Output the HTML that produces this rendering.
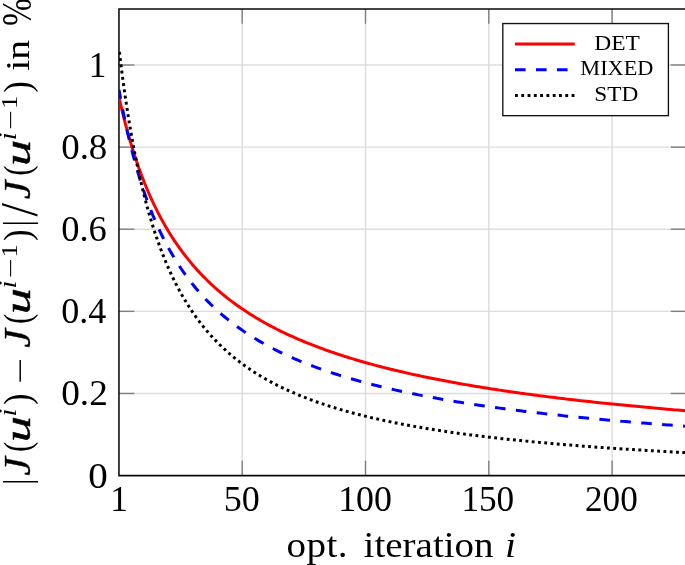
<!DOCTYPE html>
<html><head><meta charset="utf-8"><title>plot</title>
<style>
html,body{margin:0;padding:0;background:#fff;}
body{width:685px;height:565px;overflow:hidden;}
svg{display:block;}
text{font-family:"Liberation Serif",serif;fill:#000;}
</style></head><body>
<svg width="685" height="565" viewBox="0 0 685 565">
<rect width="685" height="565" fill="#fff"/>

<g stroke="#dcdcdc" stroke-width="1.4" fill="none">
<line x1="242.20" y1="9.0" x2="242.20" y2="475.6"/>
<line x1="365.50" y1="9.0" x2="365.50" y2="475.6"/>
<line x1="488.80" y1="9.0" x2="488.80" y2="475.6"/>
<line x1="612.10" y1="9.0" x2="612.10" y2="475.6"/>
<line x1="118.95" y1="393.48" x2="690" y2="393.48"/>
<line x1="118.95" y1="311.36" x2="690" y2="311.36"/>
<line x1="118.95" y1="229.24" x2="690" y2="229.24"/>
<line x1="118.95" y1="147.12" x2="690" y2="147.12"/>
<line x1="118.95" y1="65.00" x2="690" y2="65.00"/>
</g>
<g stroke="#808080" stroke-width="1.4" fill="none">
<line x1="242.20" y1="9.0" x2="242.20" y2="23.8"/>
<line x1="242.20" y1="475.6" x2="242.20" y2="460.8"/>
<line x1="365.50" y1="9.0" x2="365.50" y2="23.8"/>
<line x1="365.50" y1="475.6" x2="365.50" y2="460.8"/>
<line x1="488.80" y1="9.0" x2="488.80" y2="23.8"/>
<line x1="488.80" y1="475.6" x2="488.80" y2="460.8"/>
<line x1="612.10" y1="9.0" x2="612.10" y2="23.8"/>
<line x1="612.10" y1="475.6" x2="612.10" y2="460.8"/>
<line x1="118.95" y1="393.48" x2="134.35" y2="393.48"/>
<line x1="670.8" y1="393.48" x2="690" y2="393.48"/>
<line x1="118.95" y1="311.36" x2="134.35" y2="311.36"/>
<line x1="670.8" y1="311.36" x2="690" y2="311.36"/>
<line x1="118.95" y1="229.24" x2="134.35" y2="229.24"/>
<line x1="670.8" y1="229.24" x2="690" y2="229.24"/>
<line x1="118.95" y1="147.12" x2="134.35" y2="147.12"/>
<line x1="670.8" y1="147.12" x2="690" y2="147.12"/>
<line x1="118.95" y1="65.00" x2="134.35" y2="65.00"/>
<line x1="670.8" y1="65.00" x2="690" y2="65.00"/>
</g>
<path d="M690,9.0 L118.95,9.0 L118.95,475.6 L690,475.6" fill="none" stroke="#0a0a0a" stroke-width="1.55"/>
<clipPath id="c"><rect x="118.95" y="9.0" width="685" height="466.6"/></clipPath>
<g clip-path="url(#c)" fill="none" stroke-width="3.0">
<path d="M119.02,97.25 L119.65,100.05 L120.27,102.80 L120.89,105.51 L121.51,108.18 L122.14,110.79 L122.76,113.37 L123.38,115.90 L124.01,118.40 L124.63,120.85 L125.25,123.26 L125.87,125.64 L126.50,127.98 L127.12,130.28 L127.74,132.55 L128.36,134.78 L128.99,136.98 L129.61,139.15 L130.23,141.28 L130.86,143.38 L131.48,145.46 L132.10,147.50 L132.72,149.51 L133.35,151.50 L133.97,153.45 L134.59,155.38 L135.21,157.29 L135.84,159.16 L136.46,161.02 L137.08,162.84 L137.71,164.64 L138.33,166.42 L138.95,168.18 L139.57,169.91 L140.20,171.62 L140.82,173.30 L141.44,174.97 L142.06,176.61 L142.69,178.24 L143.31,179.84 L143.93,181.42 L144.56,182.99 L145.18,184.53 L145.80,186.06 L146.42,187.57 L147.05,189.05 L147.67,190.53 L148.29,191.98 L148.91,193.42 L149.54,194.84 L150.16,196.24 L150.78,197.63 L151.41,199.00 L152.03,200.35 L152.65,201.69 L153.27,203.02 L153.90,204.33 L154.52,205.63 L155.14,206.91 L155.77,208.18 L156.39,209.43 L157.01,210.67 L157.63,211.90 L158.26,213.11 L158.88,214.31 L159.50,215.50 L160.12,216.68 L160.75,217.84 L161.37,218.99 L161.99,220.13 L162.62,221.26 L163.24,222.38 L163.86,223.48 L164.48,224.58 L165.11,225.66 L165.73,226.73 L166.35,227.79 L166.97,228.85 L167.60,229.89 L168.22,230.92 L169.45,232.93 L172.07,237.08 L174.69,241.08 L177.32,244.92 L179.94,248.62 L182.56,252.18 L185.18,255.62 L187.80,258.94 L190.42,262.14 L193.04,265.24 L195.66,268.23 L198.28,271.13 L200.90,273.94 L203.52,276.66 L206.15,279.30 L208.77,281.85 L211.39,284.34 L214.01,286.75 L216.63,289.09 L219.25,291.36 L221.87,293.58 L224.49,295.73 L227.11,297.83 L229.73,299.87 L232.35,301.85 L234.98,303.79 L237.60,305.68 L240.22,307.52 L242.84,309.31 L245.46,311.07 L248.08,312.78 L250.70,314.45 L253.32,316.08 L255.94,317.68 L258.56,319.23 L261.18,320.76 L263.81,322.25 L266.43,323.71 L269.05,325.13 L271.67,326.53 L274.29,327.90 L276.91,329.24 L279.53,330.55 L282.15,331.83 L284.77,333.09 L287.39,334.33 L290.01,335.54 L292.64,336.72 L295.26,337.89 L297.88,339.03 L300.50,340.15 L303.12,341.25 L305.74,342.33 L308.36,343.39 L310.98,344.44 L313.60,345.46 L316.22,346.46 L318.84,347.45 L321.47,348.42 L324.09,349.38 L326.71,350.32 L329.33,351.24 L331.95,352.15 L334.57,353.04 L337.19,353.92 L339.81,354.78 L342.43,355.63 L345.05,356.47 L347.67,357.29 L350.30,358.10 L352.92,358.90 L355.54,359.69 L358.16,360.46 L360.78,361.23 L363.40,361.98 L366.02,362.72 L368.64,363.45 L371.26,364.17 L373.88,364.88 L376.50,365.58 L379.12,366.27 L381.75,366.94 L384.37,367.61 L386.99,368.28 L389.61,368.93 L392.23,369.57 L394.85,370.20 L397.47,370.83 L400.09,371.45 L402.71,372.06 L405.33,372.66 L407.95,373.25 L410.58,373.84 L413.20,374.42 L415.82,374.99 L418.44,375.55 L421.06,376.11 L423.68,376.66 L426.30,377.20 L428.92,377.74 L431.54,378.27 L434.16,378.79 L436.78,379.31 L439.41,379.82 L442.03,380.33 L444.65,380.83 L447.27,381.32 L449.89,381.81 L452.51,382.29 L455.13,382.77 L457.75,383.24 L460.37,383.71 L462.99,384.17 L465.61,384.62 L468.24,385.07 L470.86,385.52 L473.48,385.96 L476.10,386.40 L478.72,386.83 L481.34,387.25 L483.96,387.68 L486.58,388.09 L489.20,388.51 L491.82,388.92 L494.44,389.32 L497.07,389.72 L499.69,390.12 L502.31,390.51 L504.93,390.90 L507.55,391.29 L510.17,391.67 L512.79,392.04 L515.41,392.42 L518.03,392.79 L520.65,393.15 L523.27,393.51 L525.90,393.87 L528.52,394.23 L531.14,394.58 L533.76,394.93 L536.38,395.28 L539.00,395.62 L541.62,395.96 L544.24,396.29 L546.86,396.62 L549.48,396.95 L552.10,397.28 L554.73,397.60 L557.35,397.93 L559.97,398.24 L562.59,398.56 L565.21,398.87 L567.83,399.18 L570.45,399.49 L573.07,399.79 L575.69,400.09 L578.31,400.39 L580.93,400.69 L583.56,400.98 L586.18,401.27 L588.80,401.56 L591.42,401.84 L594.04,402.13 L596.66,402.41 L599.28,402.69 L601.90,402.97 L604.52,403.24 L607.14,403.51 L609.76,403.78 L612.39,404.05 L615.01,404.31 L617.63,404.58 L620.25,404.84 L622.87,405.10 L625.49,405.35 L628.11,405.61 L630.73,405.86 L633.35,406.11 L635.97,406.36 L638.59,406.61 L641.21,406.85 L643.84,407.10 L646.46,407.34 L649.08,407.58 L651.70,407.82 L654.32,408.05 L656.94,408.29 L659.56,408.52 L662.18,408.75 L664.80,408.98 L667.42,409.20 L670.04,409.43 L672.67,409.65 L675.29,409.88 L677.91,410.10 L680.53,410.32 L683.15,410.53 L685.77,410.75 L688.39,410.96 L691.01,411.18" stroke="#ff0000"/>
<path d="M119.02,89.68 L119.65,93.19 L120.27,96.64 L120.89,100.02 L121.51,103.33 L122.14,106.59 L122.76,109.78 L123.38,112.91 L124.01,115.98 L124.63,119.00 L125.25,121.96 L125.87,124.87 L126.50,127.73 L127.12,130.54 L127.74,133.30 L128.36,136.01 L128.99,138.68 L129.61,141.30 L130.23,143.88 L130.86,146.41 L131.48,148.90 L132.10,151.36 L132.72,153.77 L133.35,156.14 L133.97,158.48 L134.59,160.78 L135.21,163.04 L135.84,165.27 L136.46,167.46 L137.08,169.62 L137.71,171.75 L138.33,173.85 L138.95,175.91 L139.57,177.95 L140.20,179.95 L140.82,181.93 L141.44,183.88 L142.06,185.80 L142.69,187.69 L143.31,189.55 L143.93,191.39 L144.56,193.21 L145.18,195.00 L145.80,196.76 L146.42,198.50 L147.05,200.22 L147.67,201.92 L148.29,203.59 L148.91,205.24 L149.54,206.87 L150.16,208.48 L150.78,210.06 L151.41,211.63 L152.03,213.18 L152.65,214.70 L153.27,216.21 L153.90,217.70 L154.52,219.17 L155.14,220.63 L155.77,222.06 L156.39,223.48 L157.01,224.88 L157.63,226.26 L158.26,227.63 L158.88,228.98 L159.50,230.32 L160.12,231.64 L160.75,232.94 L161.37,234.23 L161.99,235.51 L162.62,236.77 L163.24,238.02 L163.86,239.25 L164.48,240.47 L165.11,241.67 L165.73,242.86 L166.35,244.04 L166.97,245.21 L167.60,246.36 L168.22,247.50 L169.45,249.73 L172.07,254.30 L174.69,258.68 L177.32,262.87 L179.94,266.89 L182.56,270.76 L185.18,274.47 L187.80,278.04 L190.42,281.47 L193.04,284.78 L195.66,287.97 L198.28,291.05 L200.90,294.02 L203.52,296.89 L206.15,299.66 L208.77,302.34 L211.39,304.94 L214.01,307.45 L216.63,309.88 L219.25,312.24 L221.87,314.53 L224.49,316.75 L227.11,318.91 L229.73,321.00 L232.35,323.04 L234.98,325.02 L237.60,326.94 L240.22,328.81 L242.84,330.64 L245.46,332.41 L248.08,334.14 L250.70,335.82 L253.32,337.46 L255.94,339.07 L258.56,340.63 L261.18,342.15 L263.81,343.64 L266.43,345.09 L269.05,346.51 L271.67,347.90 L274.29,349.25 L276.91,350.57 L279.53,351.87 L282.15,353.14 L284.77,354.38 L287.39,355.59 L290.01,356.77 L292.64,357.94 L295.26,359.08 L297.88,360.19 L300.50,361.28 L303.12,362.35 L305.74,363.40 L308.36,364.43 L310.98,365.44 L313.60,366.43 L316.22,367.40 L318.84,368.35 L321.47,369.29 L324.09,370.21 L326.71,371.11 L329.33,371.99 L331.95,372.86 L334.57,373.71 L337.19,374.55 L339.81,375.38 L342.43,376.19 L345.05,376.98 L347.67,377.77 L350.30,378.54 L352.92,379.29 L355.54,380.04 L358.16,380.77 L360.78,381.49 L363.40,382.20 L366.02,382.90 L368.64,383.58 L371.26,384.26 L373.88,384.93 L376.50,385.58 L379.12,386.23 L381.75,386.86 L384.37,387.49 L386.99,388.11 L389.61,388.71 L392.23,389.31 L394.85,389.90 L397.47,390.49 L400.09,391.06 L402.71,391.62 L405.33,392.18 L407.95,392.73 L410.58,393.27 L413.20,393.81 L415.82,394.34 L418.44,394.86 L421.06,395.37 L423.68,395.88 L426.30,396.38 L428.92,396.87 L431.54,397.36 L434.16,397.84 L436.78,398.31 L439.41,398.78 L442.03,399.24 L444.65,399.70 L447.27,400.15 L449.89,400.59 L452.51,401.03 L455.13,401.47 L457.75,401.90 L460.37,402.32 L462.99,402.74 L465.61,403.15 L468.24,403.56 L470.86,403.97 L473.48,404.37 L476.10,404.76 L478.72,405.15 L481.34,405.54 L483.96,405.92 L486.58,406.29 L489.20,406.67 L491.82,407.03 L494.44,407.40 L497.07,407.76 L499.69,408.12 L502.31,408.47 L504.93,408.82 L507.55,409.16 L510.17,409.50 L512.79,409.84 L515.41,410.17 L518.03,410.50 L520.65,410.83 L523.27,411.15 L525.90,411.47 L528.52,411.79 L531.14,412.10 L533.76,412.42 L536.38,412.72 L539.00,413.03 L541.62,413.33 L544.24,413.63 L546.86,413.92 L549.48,414.21 L552.10,414.50 L554.73,414.79 L557.35,415.07 L559.97,415.35 L562.59,415.63 L565.21,415.91 L567.83,416.18 L570.45,416.45 L573.07,416.72 L575.69,416.98 L578.31,417.25 L580.93,417.51 L583.56,417.76 L586.18,418.02 L588.80,418.27 L591.42,418.52 L594.04,418.77 L596.66,419.02 L599.28,419.26 L601.90,419.50 L604.52,419.74 L607.14,419.98 L609.76,420.22 L612.39,420.45 L615.01,420.68 L617.63,420.91 L620.25,421.14 L622.87,421.37 L625.49,421.59 L628.11,421.81 L630.73,422.03 L633.35,422.25 L635.97,422.47 L638.59,422.68 L641.21,422.89 L643.84,423.10 L646.46,423.31 L649.08,423.52 L651.70,423.73 L654.32,423.93 L656.94,424.13 L659.56,424.33 L662.18,424.53 L664.80,424.73 L667.42,424.93 L670.04,425.12 L672.67,425.31 L675.29,425.50 L677.91,425.69 L680.53,425.88 L683.15,426.07 L685.77,426.25 L688.39,426.44 L691.01,426.62" stroke="#0000ff" stroke-dasharray="10.6 10.4" stroke-dashoffset="1.3"/>
<path d="M119.02,48.47 L119.65,53.78 L120.27,58.97 L120.89,64.05 L121.51,69.00 L122.14,73.85 L122.76,78.60 L123.38,83.23 L124.01,87.77 L124.63,92.22 L125.25,96.56 L125.87,100.82 L126.50,104.99 L127.12,109.08 L127.74,113.08 L128.36,117.00 L128.99,120.84 L129.61,124.61 L130.23,128.30 L130.86,131.92 L131.48,135.47 L132.10,138.96 L132.72,142.38 L133.35,145.73 L133.97,149.03 L134.59,152.26 L135.21,155.43 L135.84,158.55 L136.46,161.61 L137.08,164.62 L137.71,167.57 L138.33,170.47 L138.95,173.32 L139.57,176.13 L140.20,178.88 L140.82,181.59 L141.44,184.25 L142.06,186.87 L142.69,189.45 L143.31,191.98 L143.93,194.47 L144.56,196.93 L145.18,199.34 L145.80,201.71 L146.42,204.05 L147.05,206.35 L147.67,208.61 L148.29,210.84 L148.91,213.04 L149.54,215.20 L150.16,217.33 L150.78,219.43 L151.41,221.50 L152.03,223.53 L152.65,225.54 L153.27,227.51 L153.90,229.46 L154.52,231.38 L155.14,233.27 L155.77,235.14 L156.39,236.98 L157.01,238.79 L157.63,240.58 L158.26,242.35 L158.88,244.09 L159.50,245.80 L160.12,247.49 L160.75,249.16 L161.37,250.81 L161.99,252.44 L162.62,254.04 L163.24,255.62 L163.86,257.19 L164.48,258.73 L165.11,260.25 L165.73,261.75 L166.35,263.24 L166.97,264.70 L167.60,266.15 L168.22,267.57 L169.45,270.35 L172.07,276.03 L174.69,281.43 L177.32,286.56 L179.94,291.46 L182.56,296.12 L185.18,300.58 L187.80,304.84 L190.42,308.91 L193.04,312.81 L195.66,316.54 L198.28,320.12 L200.90,323.56 L203.52,326.86 L206.15,330.04 L208.77,333.09 L211.39,336.03 L214.01,338.87 L216.63,341.60 L219.25,344.23 L221.87,346.77 L224.49,349.22 L227.11,351.59 L229.73,353.89 L232.35,356.10 L234.98,358.25 L237.60,360.33 L240.22,362.34 L242.84,364.29 L245.46,366.18 L248.08,368.01 L250.70,369.79 L253.32,371.52 L255.94,373.20 L258.56,374.83 L261.18,376.41 L263.81,377.96 L266.43,379.45 L269.05,380.91 L271.67,382.33 L274.29,383.72 L276.91,385.06 L279.53,386.37 L282.15,387.65 L284.77,388.90 L287.39,390.12 L290.01,391.30 L292.64,392.46 L295.26,393.59 L297.88,394.69 L300.50,395.77 L303.12,396.82 L305.74,397.85 L308.36,398.86 L310.98,399.84 L313.60,400.80 L316.22,401.74 L318.84,402.66 L321.47,403.56 L324.09,404.44 L326.71,405.30 L329.33,406.15 L331.95,406.97 L334.57,407.78 L337.19,408.58 L339.81,409.35 L342.43,410.12 L345.05,410.86 L347.67,411.60 L350.30,412.31 L352.92,413.02 L355.54,413.71 L358.16,414.39 L360.78,415.05 L363.40,415.71 L366.02,416.35 L368.64,416.98 L371.26,417.60 L373.88,418.20 L376.50,418.80 L379.12,419.38 L381.75,419.96 L384.37,420.53 L386.99,421.08 L389.61,421.63 L392.23,422.17 L394.85,422.69 L397.47,423.21 L400.09,423.72 L402.71,424.23 L405.33,424.72 L407.95,425.21 L410.58,425.69 L413.20,426.16 L415.82,426.62 L418.44,427.08 L421.06,427.53 L423.68,427.97 L426.30,428.41 L428.92,428.83 L431.54,429.26 L434.16,429.67 L436.78,430.08 L439.41,430.49 L442.03,430.89 L444.65,431.28 L447.27,431.67 L449.89,432.05 L452.51,432.42 L455.13,432.79 L457.75,433.16 L460.37,433.52 L462.99,433.87 L465.61,434.22 L468.24,434.57 L470.86,434.91 L473.48,435.24 L476.10,435.58 L478.72,435.90 L481.34,436.23 L483.96,436.54 L486.58,436.86 L489.20,437.17 L491.82,437.47 L494.44,437.78 L497.07,438.07 L499.69,438.37 L502.31,438.66 L504.93,438.95 L507.55,439.23 L510.17,439.51 L512.79,439.79 L515.41,440.06 L518.03,440.33 L520.65,440.60 L523.27,440.86 L525.90,441.12 L528.52,441.38 L531.14,441.63 L533.76,441.88 L536.38,442.13 L539.00,442.38 L541.62,442.62 L544.24,442.86 L546.86,443.09 L549.48,443.33 L552.10,443.56 L554.73,443.79 L557.35,444.01 L559.97,444.24 L562.59,444.46 L565.21,444.68 L567.83,444.89 L570.45,445.11 L573.07,445.32 L575.69,445.53 L578.31,445.74 L580.93,445.94 L583.56,446.14 L586.18,446.34 L588.80,446.54 L591.42,446.74 L594.04,446.93 L596.66,447.13 L599.28,447.32 L601.90,447.50 L604.52,447.69 L607.14,447.88 L609.76,448.06 L612.39,448.24 L615.01,448.42 L617.63,448.59 L620.25,448.77 L622.87,448.94 L625.49,449.12 L628.11,449.29 L630.73,449.45 L633.35,449.62 L635.97,449.79 L638.59,449.95 L641.21,450.11 L643.84,450.27 L646.46,450.43 L649.08,450.59 L651.70,450.74 L654.32,450.90 L656.94,451.05 L659.56,451.20 L662.18,451.35 L664.80,451.50 L667.42,451.65 L670.04,451.80 L672.67,451.94 L675.29,452.09 L677.91,452.23 L680.53,452.37 L683.15,452.51 L685.77,452.65 L688.39,452.78 L691.01,452.92" stroke="#000" stroke-dasharray="2.85 3.44" stroke-dashoffset="-3.5"/>
</g>
<rect x="502.8" y="23.55" width="165.6" height="92.1" fill="#fff" stroke="#111" stroke-width="1.35"/>
<g fill="none" stroke-width="3.0">
<line x1="515" y1="43.9" x2="574.8" y2="43.9" stroke="#ff0000"/>
<line x1="515" y1="69.8" x2="574.8" y2="69.8" stroke="#0000ff" stroke-dasharray="10.6 10.4"/>
<line x1="515" y1="95.4" x2="574.8" y2="95.4" stroke="#000" stroke-dasharray="2.85 3.44"/>
</g>
<text transform="translate(594.20,49.7) scale(1.097,1)" font-size="21.4px">DET</text>
<text transform="translate(580.33,75.3) scale(1.042,1)" font-size="21.4px">MIXED</text>
<text transform="translate(594.29,100.9) scale(1.089,1)" font-size="21.4px">STD</text>
<text transform="translate(61.21,405.28) scale(1.028,1)" font-size="36.3px">0.2</text>
<text transform="translate(61.26,323.16) scale(0.994,1)" font-size="36.3px">0.4</text>
<text transform="translate(61.24,241.04) scale(1.006,1)" font-size="36.3px">0.6</text>
<text transform="translate(61.23,158.92) scale(1.015,1)" font-size="36.3px">0.8</text>
<text transform="translate(88.64,76.5) scale(0.968,1)" font-size="36.3px">1</text>
<text transform="translate(88.24,487.6) scale(1.076,1)" font-size="36.3px">0</text>
<text transform="translate(110.21,511.0) scale(0.976,1)" font-size="36.3px">1</text>
<text transform="translate(223.64,511.1) scale(0.992,1)" font-size="36.3px">50</text>
<text transform="translate(338.17,511.1) scale(0.987,1)" font-size="36.3px">100</text>
<text transform="translate(461.43,511.1) scale(0.969,1)" font-size="36.3px">150</text>
<text transform="translate(585.02,511.1) scale(0.968,1)" font-size="36.3px">200</text>
<text transform="translate(286.44,556.8) scale(1.100,1)" font-size="35.5px" letter-spacing="0.439px">opt.</text>
<text transform="translate(363.62,556.8) scale(1.099,1)" font-size="35.5px">iteration</text>
<text transform="translate(505.04,556.8) scale(1.120,1)" font-size="35.5px" font-style="italic">i</text>
<g transform="rotate(-90)">
<text transform="translate(-484.69,29.71) scale(0.800,1)" font-size="38.6px">|</text>
<text transform="translate(-475.63,30.11) scale(1.081,1)" font-size="38.8px" font-style="italic" stroke="#000" stroke-width="0.35">J</text>
<text transform="translate(-451.99,29.86) scale(0.799,1)" font-size="38.8px">(</text>
<text transform="translate(-442.31,30.13) scale(1.429,1)" font-size="36.6px" font-style="italic" stroke="#000" stroke-width="0.5">u</text>
<text transform="translate(-416.54,16.40) scale(1.150,1)" font-size="24.8px" font-style="italic">i</text>
<text transform="translate(-404.80,29.86) scale(0.863,1)" font-size="38.8px">)</text>
<text transform="translate(-383.74,30.40) scale(1.563,1)" font-size="30.0px">−</text>
<text transform="translate(-347.63,30.11) scale(1.081,1)" font-size="38.8px" font-style="italic" stroke="#000" stroke-width="0.35">J</text>
<text transform="translate(-323.99,29.86) scale(0.799,1)" font-size="38.8px">(</text>
<text transform="translate(-314.31,30.13) scale(1.429,1)" font-size="36.6px" font-style="italic" stroke="#000" stroke-width="0.5">u</text>
<text transform="translate(-288.54,16.40) scale(1.150,1)" font-size="24.8px" font-style="italic">i</text>
<text transform="translate(-278.26,17.66) scale(1.603,1)" font-size="22.0px">−</text>
<text transform="translate(-257.42,16.80) scale(1.142,1)" font-size="23.5px">1</text>
<text transform="translate(-240.82,29.86) scale(0.873,1)" font-size="38.8px">)</text>
<text transform="translate(-226.29,29.71) scale(0.800,1)" font-size="38.6px">|</text>
<text transform="translate(-216.40,37.48) scale(0.922,1)" font-size="52.5px">/</text>
<text transform="translate(-199.33,30.11) scale(1.081,1)" font-size="38.8px" font-style="italic" stroke="#000" stroke-width="0.35">J</text>
<text transform="translate(-175.69,29.86) scale(0.799,1)" font-size="38.8px">(</text>
<text transform="translate(-166.01,30.13) scale(1.429,1)" font-size="36.6px" font-style="italic" stroke="#000" stroke-width="0.5">u</text>
<text transform="translate(-140.24,16.40) scale(1.150,1)" font-size="24.8px" font-style="italic">i</text>
<text transform="translate(-129.96,17.66) scale(1.603,1)" font-size="22.0px">−</text>
<text transform="translate(-109.12,16.80) scale(1.142,1)" font-size="23.5px">1</text>
<text transform="translate(-92.52,29.86) scale(0.873,1)" font-size="38.8px">)</text>
<text transform="translate(-70.70,28.80) scale(1.164,1)" font-size="34.2px">in</text>
<text transform="translate(-25.97,31.26) scale(0.787,1)" font-size="42.5px">%</text>
</g>
</svg></body></html>
